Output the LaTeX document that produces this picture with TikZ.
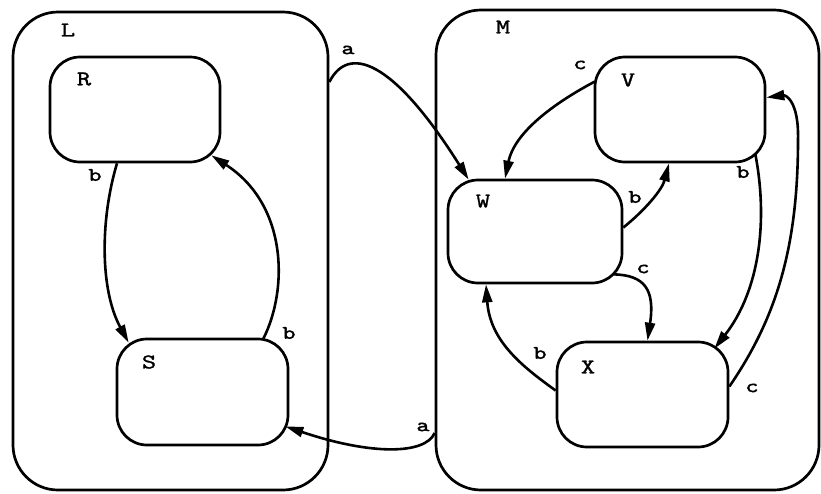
\documentclass[tikz,border=0pt]{standalone}
\usepackage{fontspec}
\newfontfamily\heavytt[FakeBold=1.2,FakeStretch=1.3]{lmmono10-regular.otf}
\newfontfamily\heaviertt[FakeBold=2,FakeStretch=1.3]{lmmono10-regular.otf}
\usetikzlibrary{arrows.meta}
\begin{document}
\begin{tikzpicture}[x=1pt,y=-1pt,
  outerbox/.style={draw, line width=2.7pt, rounded corners=45pt, inner sep=0pt},
  statebox/.style={draw, line width=2.7pt, rounded corners=30pt, inner sep=0pt, minimum width=171pt, minimum height=105pt},
  slbl/.style={inner sep=0pt, font=\heavytt\fontsize{21}{21}\selectfont},
  elbl/.style={inner sep=0pt, font=\heaviertt\fontsize{19}{19}\selectfont},
  trans/.style={line width=2.6pt, -{Triangle[length=18pt,width=10pt]}}
]
\useasboundingbox (0,0) rectangle (821,493);

% outer states
\node[outerbox, minimum width=315pt, minimum height=478pt] (L) at (170.5,251) {};
\node[outerbox, minimum width=383pt, minimum height=480pt] (M) at (627.5,250) {};

% inner states
\node[statebox, minimum width=170pt] (R) at (135,109.5) {};
\node[statebox, minimum height=106pt] (S) at (202.5,392) {};
\node[statebox, minimum width=170pt] (V) at (680,109.5) {};
\node[statebox, minimum width=174pt, minimum height=103pt] (W) at (535,231.5) {};
\node[statebox] (X) at (642.5,394.5) {};

% state names
\node[slbl] (Ll) at (68,30) {L};
\node[slbl] (Ml) at (503,27) {M};
\node[slbl] (Rl) at (84,79) {R};
\node[slbl] (Sl) at (149,362) {S};
\node[slbl] (Vl) at (628,80) {V};
\node[slbl] (Wl) at (483,201) {W};
\node[slbl] (Xl) at (588,367) {X};

% transitions
\draw[trans] ([yshift=169pt]L.east) .. controls (348,45) and (392,58) .. ([xshift=22pt,yshift=-1pt]W.north west);
\draw[trans] ([yshift=-183pt]M.west) .. controls (425,455) and (370,455) .. ([xshift=-4pt,yshift=20pt]S.south east);
\draw[trans] ([xshift=-18pt]R.south) .. controls (100,220) and (100,290) .. ([xshift=13pt,yshift=-5pt]S.north west);
\draw[trans] ([xshift=-26pt,yshift=-1pt]S.north east) .. controls (288,290) and (288,205) .. ([xshift=-10pt,yshift=8pt]R.south east);
\draw[trans] ([xshift=1pt,yshift=-26pt]V.north west) .. controls (560,100) and (515,130) .. ([xshift=-30pt]W.north);
\draw[trans] ([yshift=4pt]W.east) .. controls (645,210) and (662,190) .. ([xshift=-11pt]V.south);
\draw[trans] ([xshift=-11pt,yshift=9pt]V.south east) .. controls (768,220) and (760,290) .. ([xshift=-15pt,yshift=-8pt]X.north east);
\draw[trans] ([yshift=8pt]X.east) .. controls (775,320) and (798,250) .. (798,140) .. controls (799,100) and (785,95) .. ([yshift=12pt]V.east);
\draw[trans] ([xshift=-10pt,yshift=10pt]W.south east) .. controls (645,275) and (655,290) .. ([xshift=5pt]X.north);
\draw[trans] ([yshift=4pt]X.west) .. controls (520,365) and (490,340) .. ([xshift=-49pt]W.south);

% transition labels
\node[elbl] (a1) at (348,50) {a};
\node[elbl] (a2) at (423,427) {a};
\node[elbl] (b1) at (95,175) {b};
\node[elbl] (b2) at (289,333) {b};
\node[elbl] (c1) at (580,65) {c};
\node[elbl] (b3) at (635,197) {b};
\node[elbl] (b4) at (743,172) {b};
\node[elbl] (c2) at (752,388) {c};
\node[elbl] (c3) at (643,269) {c};
\node[elbl] (b5) at (540,353) {b};
\end{tikzpicture}
\end{document}
